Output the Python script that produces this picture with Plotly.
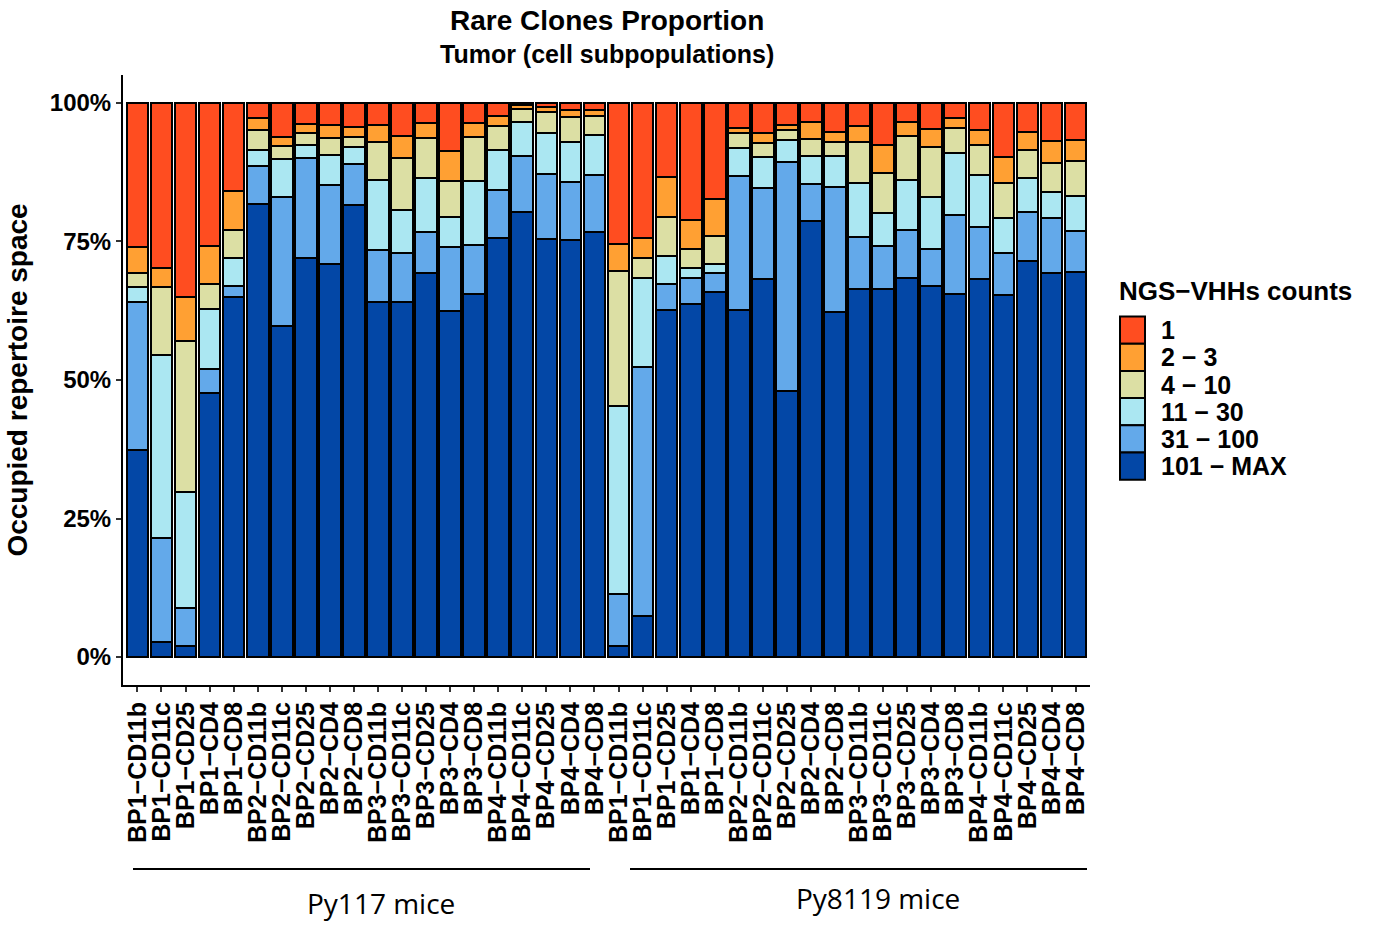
import plotly.graph_objects as go

# ---------------- data ----------------
categories = [
    "BP1−CD11b", "BP1−CD11c", "BP1−CD25", "BP1−CD4", "BP1−CD8",
    "BP2−CD11b", "BP2−CD11c", "BP2−CD25", "BP2−CD4", "BP2−CD8",
    "BP3−CD11b", "BP3−CD11c", "BP3−CD25", "BP3−CD4", "BP3−CD8",
    "BP4−CD11b", "BP4−CD11c", "BP4−CD25", "BP4−CD4", "BP4−CD8",
    "BP1−CD11b", "BP1−CD11c", "BP1−CD25", "BP1−CD4", "BP1−CD8",
    "BP2−CD11b", "BP2−CD11c", "BP2−CD25", "BP2−CD4", "BP2−CD8",
    "BP3−CD11b", "BP3−CD11c", "BP3−CD25", "BP3−CD4", "BP3−CD8",
    "BP4−CD11b", "BP4−CD11c", "BP4−CD25", "BP4−CD4", "BP4−CD8",
]
groups = ["Py117 mice", "Py8119 mice"]

# segment percentages (bottom -> top)
v_101_max = [37.4, 2.8, 2.0, 47.6, 65.0, 81.7, 59.8, 72.1, 70.9, 81.6,
             64.1, 64.1, 69.3, 62.5, 65.6, 75.7, 80.3, 75.5, 75.2, 76.7,
             1.9, 7.4, 62.6, 63.7, 65.8, 62.6, 68.2, 48.1, 78.7, 62.3,
             66.5, 66.5, 68.5, 67.0, 65.6, 68.2, 65.3, 71.4, 69.3, 69.5]
v_31_100 = [26.6, 18.6, 6.9, 4.4, 2.0, 7.0, 23.2, 17.9, 14.3, 7.4,
            9.4, 8.8, 7.5, 11.5, 8.8, 8.6, 10.2, 11.7, 10.6, 10.3,
            9.5, 45.0, 4.7, 4.8, 3.6, 24.2, 16.5, 41.2, 6.7, 22.5,
            9.4, 7.7, 8.6, 6.6, 14.1, 9.5, 7.7, 9.0, 10.0, 7.4]
v_11_30 = [2.7, 33.2, 20.9, 10.9, 5.1, 2.8, 6.9, 2.5, 5.4, 3.0,
           12.6, 7.7, 9.6, 5.5, 11.6, 7.2, 6.1, 7.4, 7.1, 7.2,
           33.9, 16.1, 5.1, 1.7, 1.5, 5.0, 5.6, 4.0, 5.0, 5.6,
           9.6, 6.0, 9.0, 9.5, 11.2, 9.3, 6.3, 6.0, 4.7, 6.4]
v_4_10 = [2.6, 12.1, 27.2, 4.4, 5.0, 3.6, 2.4, 2.1, 3.1, 1.9,
          6.9, 9.4, 7.2, 6.5, 7.9, 4.4, 2.4, 3.7, 4.6, 3.5,
          24.4, 3.5, 7.0, 3.4, 5.1, 2.7, 2.5, 1.8, 3.1, 2.5,
          7.5, 7.1, 8.0, 8.9, 4.5, 5.5, 6.2, 5.2, 5.1, 6.3]
v_2_3 = [4.7, 3.6, 7.9, 6.9, 7.1, 2.1, 1.5, 1.6, 2.3, 1.8,
         3.0, 4.1, 2.7, 5.3, 2.4, 1.8, 0.6, 0.9, 1.2, 1.0,
         4.8, 3.6, 7.3, 5.2, 6.6, 0.9, 1.7, 0.9, 3.0, 1.8,
         2.9, 5.1, 2.5, 3.3, 1.8, 2.6, 4.7, 3.1, 4.1, 3.8]
v_1 = [26.0, 29.7, 35.1, 25.8, 15.8, 2.8, 6.2, 3.8, 4.0, 4.3,
       4.0, 5.9, 3.7, 8.7, 3.7, 2.3, 0.4, 0.8, 1.3, 1.3,
       25.5, 24.4, 13.3, 21.2, 17.4, 4.6, 5.5, 4.0, 3.5, 5.3,
       4.1, 7.6, 3.4, 4.7, 2.8, 4.9, 9.8, 5.3, 6.8, 6.6]

series_names = ["101 − MAX", "31 − 100", "11 − 30", "4 − 10", "2 − 3", "1"]
series_values = [v_101_max, v_31_100, v_11_30, v_4_10, v_2_3, v_1]
series_colors = ["#0347A6", "#63A9EA", "#ABE7F2", "#DCDFA4", "#FFA033", "#FF4D20"]

y_ticks = [0, 25, 50, 75, 100]
y_ticktext = ["0%", "25%", "50%", "75%", "100%"]

# ---------------- layout geometry (pixels) ----------------
W, H = 1376, 926
L, R, T, B = 123, 1090, 75, 685  # panel edges


def px_x(x):
    return (x - L) / (R - L)


def px_y(y):
    return (B - y) / (B - T)


FONT = "Liberation Sans"
xpos = list(range(1, len(categories) + 1))

fig = go.Figure()
for name, vals, col in zip(series_names, series_values, series_colors):
    fig.add_trace(go.Bar(
        x=xpos, y=vals, name=name, width=0.9,
        marker=dict(color=col, line=dict(color="black", width=2)),
        showlegend=False,
    ))

fig.update_layout(
    width=W, height=H,
    margin=dict(l=L, r=W - R, t=T, b=H - B, pad=0),
    barmode="stack",
    plot_bgcolor="white", paper_bgcolor="white",
    font=dict(family=FONT, color="black"),
)

fig.update_xaxes(
    range=[0.4, len(categories) + 0.6],
    tickvals=xpos, ticktext=categories, tickangle=-90,
    tickfont=dict(family=FONT, size=25, color="black", weight="bold"),
    ticks="outside", ticklen=5, tickwidth=1.5, tickcolor="#333333",
    showline=True, linecolor="black", linewidth=2,
    showgrid=False, zeroline=False, automargin=False,
)
fig.update_yaxes(
    range=[-5.05, 105.05],
    tickvals=y_ticks, ticktext=y_ticktext,
    tickfont=dict(family=FONT, size=24, color="black", weight="bold"),
    ticks="outside", ticklen=5, tickwidth=1.5, tickcolor="#333333",
    showline=True, linecolor="black", linewidth=2,
    showgrid=False, zeroline=False, automargin=False,
    title=dict(text="<b>Occupied repertoire space</b>",
               font=dict(family=FONT, size=28, color="black"), standoff=14),
)

ann = []
# titles
ann.append(dict(text="<b>Rare Clones Proportion</b>", x=px_x(607), y=px_y(20),
                xref="paper", yref="paper", showarrow=False,
                xanchor="center", yanchor="middle",
                font=dict(family=FONT, size=28, color="black")))
ann.append(dict(text="<b>Tumor (cell subpopulations)</b>", x=px_x(607), y=px_y(54),
                xref="paper", yref="paper", showarrow=False,
                xanchor="center", yanchor="middle",
                font=dict(family=FONT, size=25, color="black")))

# legend (drawn manually to get large keys)
ann.append(dict(text="<b>NGS−VHHs counts</b>", x=px_x(1117), y=px_y(291),
                xref="paper", yref="paper", showarrow=False,
                xanchor="left", yanchor="middle",
                font=dict(family=FONT, size=26, color="black")))
shapes = []
row_h = 27.2
top0 = 316.5
legend_order = list(range(len(series_names)))[::-1]  # "1" first
for i, idx in enumerate(legend_order):
    y0 = top0 + i * row_h
    y1 = y0 + row_h
    shapes.append(dict(type="rect", xref="paper", yref="paper",
                       x0=px_x(1120), x1=px_x(1145), y0=px_y(y1), y1=px_y(y0),
                       fillcolor=series_colors[idx],
                       line=dict(color="black", width=2)))
    ann.append(dict(text="<b>%s</b>" % series_names[idx], x=px_x(1159),
                    y=px_y((y0 + y1) / 2), xref="paper", yref="paper",
                    showarrow=False, xanchor="left", yanchor="middle",
                    font=dict(family=FONT, size=25, color="black")))

# group brackets
group_lines = [(133, 590), (630, 1087)]
group_text_pos = [(381, 903), (878, 898)]
for g, (a, b), (tx, ty) in zip(groups, group_lines, group_text_pos):
    shapes.append(dict(type="line", xref="paper", yref="paper",
                       x0=px_x(a), x1=px_x(b), y0=px_y(869), y1=px_y(869),
                       line=dict(color="black", width=2)))
    ann.append(dict(text=g, x=px_x(tx), y=px_y(ty),
                    xref="paper", yref="paper", showarrow=False,
                    xanchor="center", yanchor="middle",
                    font=dict(family="Open Sans", size=28, color="black")))

fig.update_layout(annotations=ann, shapes=shapes)
fig.write_html("out.html")
